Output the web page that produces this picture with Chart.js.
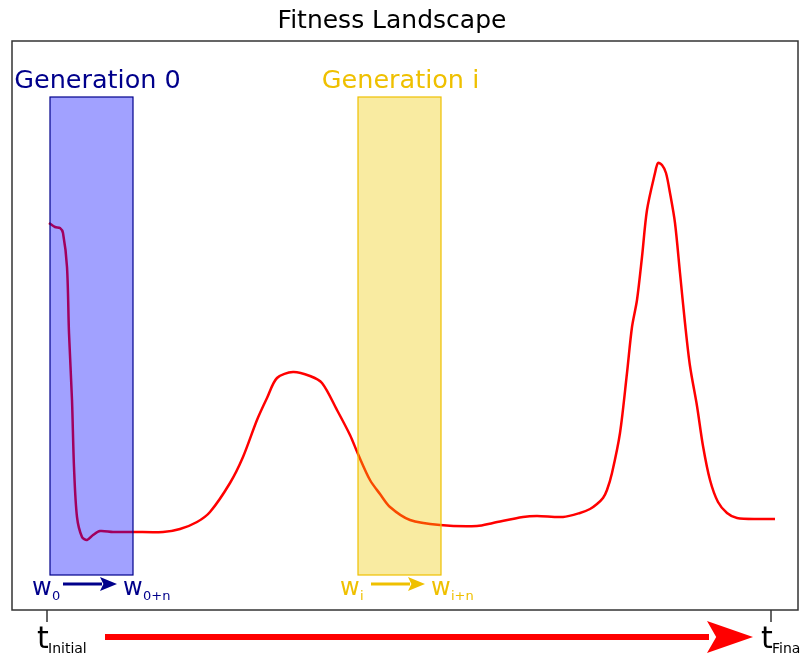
<!DOCTYPE html>
<html>
<head>
<meta charset="utf-8">
<script src="https://cdn.jsdelivr.net/npm/chart.js@4.4.1/dist/chart.umd.min.js"></script>
<style>
  html, body { margin: 0; padding: 0; background: #fff; }
  #wrap { width: 801px; height: 657px; }
</style>
</head>
<body>
<div id="wrap"><canvas id="landscape"></canvas></div>
<script>
// fitness curve, time on x (0 = t_Initial, 724 = t_Final)
const timePoints = [2, 8, 13, 16, 20, 22, 25, 27, 30, 35, 40, 46, 53, 66, 86, 116, 133, 150, 163, 183, 196, 210, 220, 230, 246, 263, 275, 290, 303, 311, 323, 333, 343, 363, 393, 430, 446, 476, 490, 516, 533, 543, 550, 556, 560, 565, 573, 580, 585, 590, 595, 600, 608, 611, 615, 619, 623, 628, 633, 638, 643, 650, 656, 663, 671, 680, 690, 713, 728]
const fitness = [387, 383, 382, 377, 343, 277, 210, 143, 93, 73, 70, 75, 79, 78, 78, 78, 81, 88, 98, 127, 153, 190, 212, 232, 238, 234, 227, 200, 175, 156, 130, 116, 103, 90, 85, 84, 87, 93, 94, 93, 97, 101, 106, 112, 120, 137, 177, 237, 283, 310, 353, 400, 437, 447, 445, 437, 417, 387, 337, 287, 244, 204, 164, 130, 108, 97, 92, 91, 91]

// generation windows
const genNames = ['Generation 0', 'Generation i']
const genStart = [3, 311]
const genEnd = [86, 394]
const genLow = [35, 35]
const genHigh = [513, 513]
const genFrom = ['0', 'i']
const genTo = ['0+n', 'i+n']

const tickValues = [0, 724]
const tickSubs = ['Initial', 'Final']

const genColors = [
  { text: '#00008b', fill: 'rgba(0,0,255,0.37)', edge: '#00008b' },
  { text: '#efc000', fill: 'rgba(240,200,0,0.37)', edge: '#efc000' }
]

const ctx = document.getElementById('landscape')

function arrow(c, x1, x2, y, thick, headLen, headHalf, color) {
  c.save()
  c.strokeStyle = color
  c.fillStyle = color
  c.lineWidth = thick
  c.beginPath()
  c.moveTo(x1, y)
  c.lineTo(x2 - headLen + 2, y)
  c.stroke()
  c.beginPath()
  c.moveTo(x2, y)
  c.lineTo(x2 - headLen, y - headHalf)
  c.lineTo(x2 - headLen * 0.8, y)
  c.lineTo(x2 - headLen, y + headHalf)
  c.closePath()
  c.fill()
  c.restore()
}

const decor = {
  id: 'decor',
  beforeDraw(chart) {
    const c = chart.ctx
    c.save()
    c.fillStyle = '#fff'
    c.fillRect(0, 0, chart.width, chart.height)
    c.restore()
  },
  afterDatasetsDraw(chart) {
    const c = chart.ctx
    const xs = chart.scales.x
    const ys = chart.scales.y
    const area = chart.chartArea

    c.save()
    // generation boxes over the curve
    genNames.forEach((name, i) => {
      const x1 = xs.getPixelForValue(genStart[i])
      const x2 = xs.getPixelForValue(genEnd[i])
      const y1 = ys.getPixelForValue(genHigh[i])
      const y2 = ys.getPixelForValue(genLow[i])
      c.fillStyle = genColors[i].fill
      c.fillRect(x1, y1, x2 - x1, y2 - y1)
      c.strokeStyle = genColors[i].edge
      c.lineWidth = 1.2
      c.strokeRect(x1, y1, x2 - x1, y2 - y1)

      c.fillStyle = genColors[i].text
      c.font = '25.5px "DejaVu Sans"'
      c.textAlign = 'center'
      c.textBaseline = 'alphabetic'
      c.fillText(name, (x1 + x2) / 2 + (i === 0 ? 6 : 1), y1 - 9)

      // w_from -> w_to
      c.textAlign = 'left'
      const wy = y2 + 20
      c.font = '24px "DejaVu Sans"'
      c.fillText('w', x1 - 18, wy)
      c.font = '13px "DejaVu Sans"'
      c.fillText(genFrom[i], x1 + 2, wy + 5)
      arrow(c, x1 + 13, x1 + 67, y2 + 9, 3, 17, 7, genColors[i].text)
      c.font = '24px "DejaVu Sans"'
      c.fillText('w', x2 - 10, wy)
      c.font = '13px "DejaVu Sans"'
      c.fillText(genTo[i], x2 + 10, wy + 5)
    })

    // axes frame
    c.strokeStyle = '#333'
    c.lineWidth = 1.5
    c.strokeRect(area.left, area.top, area.right - area.left, area.bottom - area.top)

    // ticks with subscript labels
    tickValues.forEach((v, i) => {
      const x = xs.getPixelForValue(v)
      c.beginPath()
      c.moveTo(x, area.bottom)
      c.lineTo(x, area.bottom + 12)
      c.stroke()
      c.fillStyle = '#000'
      c.textAlign = 'left'
      c.font = '30px "DejaVu Sans"'
      c.fillText('t', x - 10, area.bottom + 38)
      c.font = '14px "DejaVu Sans"'
      c.fillText(tickSubs[i], x + 1, area.bottom + 43)
    })

    // time arrow
    arrow(c, xs.getPixelForValue(58), xs.getPixelForValue(706), area.bottom + 27, 6, 46, 16, '#ff0000')

    // title
    c.fillStyle = '#000'
    c.textAlign = 'center'
    c.font = '25px "DejaVu Sans"'
    c.fillText('Fitness Landscape', (area.left + area.right) / 2 - 13, 28)
    c.restore()
  }
}

new Chart(ctx, {
  type: 'line',
  data: {
    datasets: [{
      data: timePoints.map((t, i) => ({ x: t, y: fitness[i] })),
      borderColor: '#ff0000',
      borderWidth: 2.5,
      pointRadius: 0,
      tension: 0.3,
      fill: false
    }]
  },
  options: {
    responsive: true,
    maintainAspectRatio: false,
    animation: false,
    events: [],
    layout: { padding: { left: 12, right: 3, top: 41, bottom: 47 } },
    plugins: { legend: { display: false }, title: { display: false }, tooltip: { enabled: false } },
    scales: {
      x: { type: 'linear', min: -35, max: 751, display: false },
      y: { min: 0, max: 569, display: false }
    }
  },
  plugins: [decor]
})
</script>
</body>
</html>
